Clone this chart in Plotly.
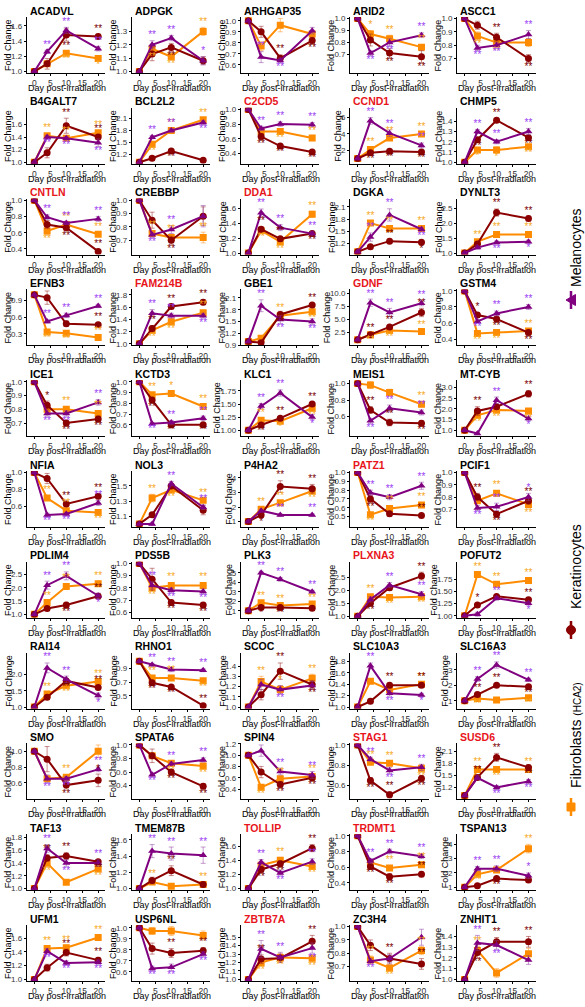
import plotly.graph_objects as go
from plotly.subplots import make_subplots

days = [0, 4, 10, 20]
x_ticks = [0, 5, 10, 15, 20]

genes = ["ACADVL", "ADPGK", "ARHGAP35", "ARID2", "ASCC1",
         "B4GALT7", "BCL2L2", "C2CD5", "CCND1", "CHMP5",
         "CNTLN", "CREBBP", "DDA1", "DGKA", "DYNLT3",
         "EFNB3", "FAM214B", "GBE1", "GDNF", "GSTM4",
         "ICE1", "KCTD3", "KLC1", "MEIS1", "MT-CYB",
         "NFIA", "NOL3", "P4HA2", "PATZ1", "PCIF1",
         "PDLIM4", "PDS5B", "PLK3", "PLXNA3", "POFUT2",
         "RAI14", "RHNO1", "SCOC", "SLC10A3", "SLC16A3",
         "SMO", "SPATA6", "SPIN4", "STAG1", "SUSD6",
         "TAF13", "TMEM87B", "TOLLIP", "TRDMT1", "TSPAN13",
         "UFM1", "USP6NL", "ZBTB7A", "ZC3H4", "ZNHIT1"]

red_genes = ["C2CD5", "CCND1", "CNTLN", "DDA1", "FAM214B", "GDNF", "PATZ1",
             "PLXNA3", "STAG1", "SUSD6", "TOLLIP", "TRDMT1", "ZBTB7A"]

y_ticks = [
    ["1.0", "1.2", "1.4", "1.6"], ["1.0", "1.1", "1.2", "1.3"], ["0.6", "0.7", "0.8", "0.9", "1.0"], ["0.7", "0.8", "0.9", "1.0"], ["0.7", "0.8", "0.9", "1.0"],
    ["1.0", "1.2", "1.4", "1.6"], ["1.2", "1.5", "1.8", "2.1"], ["0.4", "0.6", "0.8", "1.0"], ["2", "4", "6"], ["1.0", "1.1", "1.2", "1.3", "1.4"],
    ["0.4", "0.6", "0.8", "1.0"], ["0.7", "0.8", "0.9", "1.0"], ["1.0", "1.2", "1.4", "1.6"], ["1.2", "1.5", "1.8", "2.1"], ["1.0", "1.5", "2.0", "2.5"],
    ["0.3", "0.6", "0.9"], ["1.0", "1.2", "1.4", "1.6", "1.8"], ["0.9", "1.2", "1.5", "1.8", "2.1"], ["2.5", "5.0", "7.5", "10.0"], ["0.4", "0.6", "0.8", "1.0"],
    ["0.7", "0.8", "0.9", "1.0"], ["0.6", "0.7", "0.8", "0.9", "1.0"], ["1.00", "1.25", "1.50", "1.75"], ["0.6", "0.8", "1.0"], ["1.0", "1.5", "2.0", "2.5", "3.0"],
    ["0.6", "0.8", "1.0"], ["1.1", "1.3", "1.5"], ["1", "2", "3", "4"], ["0.5", "0.6", "0.7", "0.8", "0.9", "1.0"], ["0.7", "0.8", "0.9", "1.0"],
    ["1.0", "1.5", "2.0", "2.5"], ["0.6", "0.7", "0.8", "0.9", "1.0"], ["1", "2", "3", "4", "5"], ["1.0", "1.5", "2.0", "2.5"], ["1.00", "1.25", "1.50", "1.75"],
    ["1.0", "1.5", "2.0"], ["0.5", "0.7", "0.9"], ["1.0", "1.1", "1.2", "1.3", "1.4"], ["1.0", "1.2", "1.4", "1.6", "1.8"], ["1", "2", "3"],
    ["0.6", "0.8", "1.0"], ["0.4", "0.6", "0.8", "1.0"], ["0.4", "0.6", "0.8", "1.0", "1.2"], ["0.4", "0.6", "0.8", "1.0"], ["1.2", "1.5", "1.8", "2.1"],
    ["1.0", "1.2", "1.4", "1.6", "1.8"], ["1.0", "1.2", "1.4", "1.6"], ["1.0", "1.2", "1.4", "1.6"], ["0.4", "0.6", "0.8", "1.0"], ["1", "2", "3", "4"],
    ["1.0", "1.2", "1.4", "1.6"], ["0.6", "0.7", "0.8", "0.9", "1.0"], ["1.0", "1.1", "1.2", "1.3", "1.4", "1.5"], ["0.7", "0.8", "0.9", "1.0"], ["1.0", "1.1", "1.2", "1.3", "1.4"],
]

# Melanocytes (purple)
mel = [
    [1, 1.26, 1.54, 1.30], [1, 1.20, 1.25, 1.08], [1, .67, .64, .91], [1, .71, .80, .86], [1, .78, .80, .88],
    [1, 1.40, 1.38, 1.31], [1, 1.63, 1.80, 2.00], [1, .74, .80, .79], [1, 5.6, 4.1, 2.6], [1, 1.30, 1.20, 1.30],
    [1, .79, .72, .77], [1, .74, .78, .88], [1, 1.54, 1.34, 1.26], [1, 1.36, 1.90, 1.55], [1, 1.18, 1.35, 1.38],
    [1, .52, .63, .80], [1, 1.50, 1.46, 1.46], [1, 1.90, 1.55, 1.50], [1, 8.2, 6.3, 8.1], [1, .62, .72, .80],
    [1, .77, .77, .85], [1, .61, .62, .66], [1, 1.46, 1.71, 1.25], [1, .55, .70, .65], [1, .85, 2.40, 1.55],
    [1, .50, .51, .64], [1, 1.00, 1.53, 1.22], [1, 1.75, 1.45, 1.45], [1, .77, .72, .85], [1, .71, .72, .80],
    [1, 2.10, 2.45, 1.70], [1, .82, .78, .77], [1, 5.0, 4.3, 3.0], [1, 1.65, 2.20, 1.85], [1, 1.03, 1.36, 1.26],
    [1, 2.20, 1.85, 1.35], [1, .95, .88, .87], [1, 1.22, 1.17, 1.21], [1, 1.72, 1.24, 1.21], [1, 2.40, 3.30, 2.35],
    [1, .65, .65, .77], [1, .56, .72, .78], [1, 1.08, .71, .65], [1, .86, .75, .78], [1, 1.44, 1.20, 1.35],
    [1, 1.63, 1.40, 1.40], [1, 1.46, 1.43, 1.41], [1, 1.37, 1.22, 1.38], [1, .68, .80, .74], [1, 2.3, 2.3, 1.8],
    [1, 1.41, 1.24, 1.25], [1, .63, .64, .76], [1, 1.36, 1.26, 1.37], [1, .74, .76, .92], [1, 1.34, 1.32, 1.18],
]
mel_err = [
    [.02, .04, .03], [.03, .02, .03], [.05, .02, .03], [.02, .03, .02], [.02, .02, .03],
    [.03, .03, .06], [.04, .05, .05], [.03, .03, .03], [.4, .4, .3], [.02, .02, .03],
    [.03, .02, .03], [.02, .03, .08], [.05, .04, .03], [.1, .15, .05], [.05, .05, .05],
    [.03, .04, .03], [.06, .04, .04], [.15, .1, .07], [.7, .8, .5], [.02, .03, .03],
    [.02, .02, .02], [.01, .02, .02], [.05, .06, .05], [.03, .04, .03], [.05, .15, .1],
    [.02, .02, .03], [.02, .03, .03], [.1, .08, .08], [.03, .03, .04], [.02, .03, .03],
    [.15, .15, .1], [.03, .02, .02], [.15, .2, .15], [.1, .1, .1], [.04, .04, .04],
    [.15, .1, .08], [.02, .03, .02], [.05, .04, .04], [.05, .05, .03], [.15, .2, .1],
    [.05, .03, .03], [.03, .03, .03], [.1, .06, .06], [.02, .03, .03], [.05, .05, .05],
    [.06, .05, .05], [.08, .08, .1], [.04, .03, .04], [.03, .03, .03], [.15, .2, .2],
    [.04, .03, .03], [.02, .03, .02], [.1, .06, .06], [.02, .03, .06], [.07, .04, .04],
]
mel_sig = ["UUU", "UUu", "UD.", "DDU", "DDU",
           "DDD", "UUD", "UUU", "UUU", "UUU",
           "UUU", "DU.", "UUU", "UUD", ".Dd",
           "UUU", "UUD", "UDD", "UUU", "DUU",
           "DDU", "DUU", "UUd", "DUU", ".Ud",
           "DDU", ".UU", ".UU", "UUU", "DUu",
           "UUd", "UDD", "UUU", ".UU", ".Ud",
           "UUd", "UUU", ".D.", "UDd", "UUU",
           "DDU", "DUU", ".UU", "UDU", ".DD",
           "UDU", "UUU", "UDU", "UUU", "UUu",
           "DDD", "DDD", "UUD", "D..", "UD."]

# Keratinocytes (dark red)
ker = [
    [1, 1.10, 1.48, 1.46], [1, 1.13, 1.18, 1.08], [1, .90, .66, .82], [1, .82, .71, .68], [1, .95, .86, .70],
    [1, 1.15, 1.58, 1.40], [1, 1.10, 1.28, 1.05], [1, .63, .50, .42], [1, 1.7, 1.9, 1.8], [1, 1.22, 1.41, 1.24],
    [1, .70, .66, .37], [1, .85, .70, .88], [1, 1.32, 1.19, 1.26], [1, 1.12, 1.26, 1.23], [1, 1.30, 2.35, 2.15],
    [1, .95, .48, .46], [1, 1.25, 1.61, 1.68], [1, .97, 1.68, 1.92], [1, 2.0, 3.5, 6.3], [1, .70, .65, .48],
    [1, .83, .70, .73], [1, .83, .60, .60], [1, 1.10, 1.23, 1.50], [1, .68, .53, .52], [1, 1.90, 2.10, 2.70],
    [1, .93, .63, .72], [1, 1.12, 1.50, 1.18], [1, 1.45, 3.40, 3.25], [1, .70, .53, .51], [1, .80, .66, .77],
    [1, 1.22, 1.35, 1.68], [1, .87, .68, .66], [1, 1.35, 1.35, 1.25], [1, 1.50, 2.10, 2.55], [1, 1.22, 1.40, 1.33],
    [1, 1.30, 1.80, 1.60], [1, .69, .63, .36], [1, 1.12, 1.35, 1.22], [1, 1.10, 1.38, 1.38], [1, 1.40, 2.00, 1.90],
    [1, .90, .57, .63], [1, .84, .60, .39], [1, .70, .48, .60], [1, .65, .51, .67], [1, 1.45, 1.95, 1.70],
    [1, 1.48, 1.51, 1.42], [1, 1.10, 1.22, 1.05], [1, 1.27, 1.35, 1.57], [1, .61, .48, .51], [1, 1.1, 1.6, 1.5],
    [1, 1.17, 1.39, 1.28], [1, .81, .77, .79], [1, 1.24, 1.25, 1.45], [1, .86, .76, .72], [1, 1.25, 1.35, 1.35],
]
ker_err = [
    [.07, .08, .03], [.05, .03, .03], [.05, .03, .03], [.05, .04, .05], [.03, .03, .03],
    [.08, .12, .04], [.04, .04, .02], [.04, .02, .02], [.15, .15, .15], [.02, .02, .02],
    [.05, .04, .02], [.06, .03, .07], [.03, .03, .03], [.04, .05, .05], [.05, .12, .08],
    [.12, .05, .04], [.05, .04, .04], [.03, .08, .04], [.2, .3, .8], [.03, .03, .03],
    [.03, .02, .02], [.02, .01, .01], [.03, .03, .03], [.04, .04, .03], [.2, .1, .15],
    [.06, .03, .03], [.03, .03, .06], [.15, .4, .3], [.04, .03, .02], [.03, .02, .03],
    [.05, .1, .1], [.09, .02, .02], [.1, .1, .1], [.1, .1, .15], [.03, .03, .03],
    [.05, .05, .05], [.02, .02, .02], [.05, .08, .04], [.04, .04, .04], [.1, .1, .1],
    [.16, .05, .08], [.1, .04, .04], [.1, .05, .05], [.03, .03, .03], [.05, .1, .06],
    [.05, .05, .03], [.04, .06, .03], [.04, .04, .05], [.03, .04, .03], [.1, .1, .1],
    [.05, .05, .04], [.05, .04, .03], [.05, .05, .07], [.04, .04, .04], [.05, .04, .05],
]
ker_sig = [".DU", ".D.", ".UD", ".DD", ".UD",
           ".UU", ".D.", "DDD", "DDD", "DUD",
           ".DU", ".D.", "UUD", ".Ud", ".UU",
           "..U", "UUU", ".DU", "UUU", "uDD",
           "uDD", "DDD", "DUU", "UUD", "U.U",
           ".UU", "...", "dUU", "D.U", "UDU",
           ".DU", ".DD", "dD.", "D.U", "u.U",
           ".DU", "DDU", ".UD", ".UU", "UUD",
           ".Du", ".DD", ".DD", "DUD", "UUD",
           "UUD", ".U.", "DDU", "DDU", ".D.",
           ".UU", ".UU", "U.U", ".UU", "DUU"]

# Fibroblasts HCA2 (orange)
fib = [
    [1, 1.10, 1.24, 1.17], [1, 1.17, 1.11, 1.30], [1, .77, .96, .88], [1, .87, .83, .76], [1, .87, .82, .82],
    [1, 1.42, 1.38, 1.47], [1, 1.45, 1.80, 2.07], [1, .70, .70, .61], [1, 2.1, 3.5, 4.0], [1, 1.12, 1.12, 1.15],
    [1, .62, .70, .58], [1, .75, .72, .72], [1, 1.30, 1.15, 1.52], [1, 1.70, 1.57, 1.57], [1, 1.38, 1.62, 1.62],
    [1, .33, .31, .23], [1, 1.22, 1.36, 1.51], [1, 1.08, 1.65, 1.75], [1, 2.0, 2.8, 2.6], [1, .47, .48, .50],
    [1, .80, .80, .77], [1, .88, .89, .77], [1, 1.19, 1.17, 1.42], [1, .98, .89, .75], [1, 1.70, 1.95, 1.90],
    [1, .70, .55, .53], [1, 1.34, 1.45, 1.31], [1, 1.85, 2.30, 3.10], [1, .52, .59, .63], [1, .77, .83, .74],
    [1, 1.45, 2.05, 2.15], [1, .80, .82, .82], [1, 1.85, 1.55, 1.70], [1, 1.75, 1.72, 1.75], [1, 1.85, 1.65, 1.73],
    [1, 1.40, 1.65, 1.78], [1, .76, .76, .72], [1, 1.25, 1.17, 1.28], [1, 1.45, 1.30, 1.40], [1, 1.15, 1.05, 1.20],
    [1, .65, .67, 1.00], [1, .84, .73, .69], [1, .43, .58, .62], [1, .83, .82, .77], [1, 1.65, 1.65, 1.65],
    [1, 1.40, 1.10, 1.31], [1, 1.08, 1.03, 1.05], [1, 1.33, 1.40, 1.31], [1, .66, .59, .63], [1, 1.9, 2.2, 3.7],
    [1, 1.45, 1.46, 1.61], [1, .97, .97, .93], [1, 1.20, 1.26, 1.25], [1, .75, .69, .82], [1, 1.27, 1.06, 1.24],
]
fib_err = [
    [.03, .02, .03], [.03, .02, .03], [.04, .06, .03], [.03, .03, .02], [.03, .03, .03],
    [.03, .03, .03], [.05, .05, .04], [.03, .03, .02], [.2, .2, .2], [.02, .03, .02],
    [.04, .02, .02], [.02, .02, .04], [.03, .03, .04], [.04, .04, .04], [.05, .05, .05],
    [.02, .02, .02], [.04, .04, .04], [.03, .05, .05], [.2, .3, .3], [.02, .02, .02],
    [.02, .02, .02], [.02, .02, .02], [.03, .03, .04], [.04, .04, .03], [.1, .1, .1],
    [.03, .03, .02], [.05, .03, .03], [.1, .1, .2], [.02, .03, .03], [.02, .02, .03],
    [.05, .1, .1], [.02, .02, .02], [.1, .1, .1], [.08, .08, .08], [.05, .03, .04],
    [.05, .05, .05], [.02, .03, .02], [.05, .04, .04], [.03, .03, .03], [.05, .05, .05],
    [.03, .03, .08], [.04, .04, .04], [.03, .03, .03], [.02, .02, .03], [.05, .05, .05],
    [.05, .03, .04], [.03, .03, .03], [.04, .04, .03], [.03, .03, .03], [.1, .1, .3],
    [.03, .04, .03], [.03, .04, .04], [.04, .04, .04], [.03, .02, .03], [.04, .04, .05],
]
fib_sig = [".Dd", "DDU", "...", "uUU", "DD.",
           "UUU", "DUU", ".DU", "UUU", "ddD",
           "DUU", "UUU", "DDU", "UUU", "UUU",
           "DDU", "DDU", ".UD", "DDU", "DDU",
           ".UU", "UuU", "UdD", "..U", "DDD",
           "UUD", "UDU", "UUD", "DUU", ".UD",
           "UUU", "DUU", "UUU", "UDD", "UUU",
           "UDU", "UUD", "UuU", "..U", "D.D",
           ".U.", ".DD", "DUU", "UUD", "UDU",
           "D.D", "U.U", ".UD", ".UU", "D.U",
           "UUU", "...", "DDD", "UDU", "U.."]

W, H = 585, 1007
FONT = "Liberation Sans, Arial, Helvetica, sans-serif"
col_left = [26.7, 131.7, 240.7, 350.0, 457.0]
panel_w = 78.5
row_pitch = 90.8


def px(x):
    return x / W


def py(y):
    return 1 - y / H


def label_w(t):
    return sum(4.45 if ch.isdigit() else 2.2 for ch in t)


series = [
    (fib, fib_err, fib_sig, "#FF8C00", "#F7A823", "square", "rgba(255,150,40,0.55)"),
    (ker, ker_err, ker_sig, "#8B0000", "#7A0000", "circle", "rgba(150,30,30,0.5)"),
    (mel, mel_err, mel_sig, "#800080", "#9B3DF2", "triangle-up", "rgba(140,60,160,0.5)"),
]

fig = make_subplots(rows=11, cols=5)

for i, g in enumerate(genes):
    r, c = divmod(i, 5)
    lo_all, hi_all = [], []
    for vals, errs, sigs, *_ in series:
        e = [0] + errs[i]
        for j in range(4):
            lo_all.append(vals[i][j] - e[j])
            hi_all.append(vals[i][j] + e[j])
    span0 = max(hi_all) - min(lo_all)
    ext_lo, ext_hi = list(lo_all), list(hi_all)
    for vals, errs, sigs, *_ in series:
        e = [0] + errs[i]
        for j, s in enumerate(sigs[i]):
            if s in "Uu":
                ext_hi.append(vals[i][j + 1] + e[j + 1] + 0.2 * span0)
            elif s in "Dd":
                ext_lo.append(vals[i][j + 1] - e[j + 1] - 0.2 * span0)
    lo, hi = min(ext_lo), max(ext_hi)
    pad = 0.03 * (hi - lo)
    yr = [lo - pad, hi + pad]

    for vals, errs, sigs, lc, ac, sym, ec in series:
        e = [0] + errs[i]
        fig.add_trace(go.Scatter(
            x=days, y=vals[i], mode="lines+markers",
            line=dict(color=lc, width=2),
            marker=dict(symbol=sym, size=7, color=lc),
            error_y=dict(type="data", array=e, color=ec, thickness=1, width=2.5),
            showlegend=False, hoverinfo="skip"), row=r + 1, col=c + 1)
    for vals, errs, sigs, lc, ac, sym, ec in series:
        e = [0] + errs[i]
        xs, ys, ts, ps = [], [], [], []
        for j, s in enumerate(sigs[i]):
            if s == ".":
                continue
            k = j + 1
            up = s in "Uu"
            xs.append(days[k])
            ys.append(vals[i][k] + e[k] if up else vals[i][k] - e[k])
            ts.append("**" if s in "UD" else "*")
            ps.append("top center" if up else "bottom center")
        if xs:
            fig.add_trace(go.Scatter(
                x=xs, y=ys, mode="text", text=ts, textposition=ps,
                textfont=dict(color=ac, size=10, family=FONT),
                showlegend=False, hoverinfo="skip", cliponaxis=False), row=r + 1, col=c + 1)

    left = col_left[c]
    top = 17 + row_pitch * r
    bot = 73 + row_pitch * r
    fig.update_xaxes(row=r + 1, col=c + 1, domain=[px(left), px(left + panel_w)], range=[-2.4, 22.2],
                     tickvals=x_ticks, showline=True, linecolor="black", linewidth=0.8,
                     ticks="outside", ticklen=2, tickwidth=0.8, tickcolor="black",
                     tickfont=dict(size=8.5, color="#333333", family=FONT),
                     showgrid=False, zeroline=False, automargin=False)
    tv = [float(t) for t in y_ticks[i]]
    fig.update_yaxes(row=r + 1, col=c + 1, domain=[py(bot), py(top)], range=yr,
                     tickvals=tv, ticktext=y_ticks[i], showline=True, linecolor="black", linewidth=0.8,
                     ticks="outside", ticklen=2, tickwidth=0.8, tickcolor="black",
                     tickfont=dict(size=8, color="#333333", family=FONT),
                     showgrid=False, zeroline=False, automargin=False)
    # panel title
    fig.add_annotation(xref="paper", yref="paper", x=px(left + 1), y=py(10.5 + row_pitch * r),
                       xanchor="left", yanchor="middle", text="<b>%s</b>" % g, showarrow=False,
                       font=dict(size=10.5, family=FONT, color="#E8141B" if g in red_genes else "black"))
    # x axis title
    fig.add_annotation(xref="paper", yref="paper", x=px(left + panel_w / 2 + 1), y=py(88 + row_pitch * r),
                       xanchor="center", yanchor="middle", text="Day post-irradiation", showarrow=False,
                       font=dict(size=9, family=FONT, color="black"))
    # y axis title
    wmax = max(label_w(t) for t in y_ticks[i])
    fig.add_annotation(xref="paper", yref="paper", x=px(left - 3.5 - wmax - 4), y=py((top + bot) / 2),
                       xanchor="center", yanchor="middle", textangle=-90, text="Fold Change", showarrow=False,
                       font=dict(size=9, family=FONT, color="black"))

legend_items = [
    ("Melanocytes", 248, 300, "#800080", "tri"),
    ("Keratinocytes", 567, 630, "#8B0000", "circ"),
    ("Fibroblasts <span style='font-size:10px'>(HCA2)</span>", 735, 807, "#FF8C00", "sq"),
]
for label, ty, sy, colr, kind in legend_items:
    fig.add_annotation(xref="paper", yref="paper", x=px(576), y=py(ty), textangle=-90,
                       text=label, showarrow=False, xanchor="center", yanchor="middle",
                       font=dict(size=14, family=FONT, color="black"))
    fig.add_shape(type="line", xref="paper", yref="paper", x0=px(571), x1=px(571),
                  y0=py(sy - 9), y1=py(sy + 9), line=dict(color=colr, width=2.5))
    if kind == "tri":
        path = "M %f,%f L %f,%f L %f,%f Z" % (px(566), py(sy), px(575.5), py(sy - 5.5), px(575.5), py(sy + 5.5))
        fig.add_shape(type="path", xref="paper", yref="paper", path=path,
                      fillcolor=colr, line=dict(color=colr, width=1))
    elif kind == "circ":
        fig.add_shape(type="circle", xref="paper", yref="paper", x0=px(566.5), x1=px(575.5),
                      y0=py(sy - 4.5), y1=py(sy + 4.5), fillcolor=colr, line=dict(color=colr, width=1))
    else:
        fig.add_shape(type="rect", xref="paper", yref="paper", x0=px(567), x1=px(575),
                      y0=py(sy - 4), y1=py(sy + 4), fillcolor=colr, line=dict(color=colr, width=1))

fig.update_layout(width=W, height=H, margin=dict(l=0, r=0, t=0, b=0),
                  paper_bgcolor="white", plot_bgcolor="white",
                  font=dict(family=FONT), showlegend=False)

fig.write_html("out.html", config={"displayModeBar": False},
               post_script="document.body.style.margin='0px';")
